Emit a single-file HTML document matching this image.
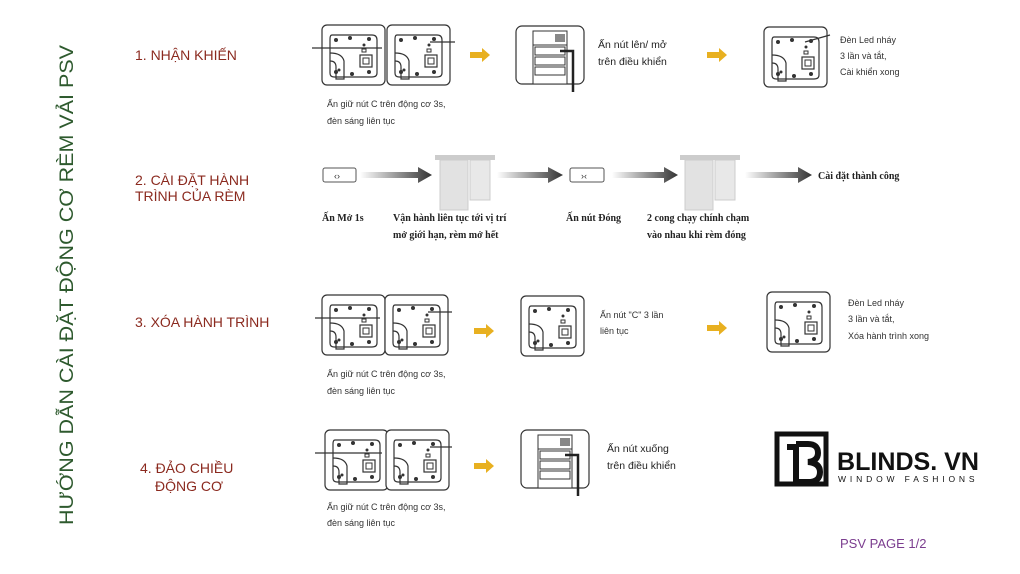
<!DOCTYPE html>
<html><head><meta charset="utf-8"><style>
html,body{margin:0;padding:0;background:#fff;}
svg{display:block;}
.lb{font-family:"Liberation Sans",sans-serif;font-size:14px;fill:#8b2a1f;}
.sm{font-family:"Liberation Sans",sans-serif;font-size:9px;fill:#333;}
.md{font-family:"Liberation Sans",sans-serif;font-size:10.5px;fill:#222;}
.sf{font-family:"Liberation Serif",serif;font-size:10px;font-weight:bold;fill:#222;}
</style></head><body>
<svg width="1020" height="574" viewBox="0 0 1020 574" xmlns="http://www.w3.org/2000/svg">
<defs>
<linearGradient id="ga" x1="0" x2="1"><stop offset="0" stop-color="#fff"/><stop offset="1" stop-color="#333"/></linearGradient>
<g id="motor">
<rect x="0" y="0" width="63" height="60" rx="5" fill="#fff" stroke="#333" stroke-width="1.2"/>
<path d="M10 10 H50 Q55 10 55 15 V48 Q55 52 50 52 H12 Q8 52 8 48 V14 Q8 10 10 10Z" fill="none" stroke="#333" stroke-width="1.2"/>
<circle cx="14" cy="15" r="2" fill="#333"/><circle cx="28" cy="13" r="2" fill="#333"/><circle cx="47" cy="14" r="2" fill="#333"/>
<circle cx="14" cy="47" r="2" fill="#333"/><circle cx="30" cy="49" r="2" fill="#333"/><circle cx="47" cy="47" r="2" fill="#333"/>
<circle cx="42" cy="20" r="1.5" fill="#333"/><rect x="40" y="24" width="4" height="3" fill="none" stroke="#333"/>
<rect x="38" y="30" width="12" height="12" fill="none" stroke="#333" stroke-width="1.2"/><rect x="41" y="33" width="6" height="6" fill="none" stroke="#333"/>
<path d="M8 28 Q20 28 22 36 V54 H14 V42 Q14 36 8 36" fill="none" stroke="#333" stroke-width="1.2"/>
<circle cx="17" cy="45" r="1.5" fill="#333"/>
</g>
<g id="remote">
<rect x="0" y="0" width="68" height="58" rx="6" fill="#fff" stroke="#333" stroke-width="1.2"/>
<rect x="17" y="5" width="34" height="53" fill="#fff" stroke="#333"/>
<rect x="39" y="8" width="10" height="8" fill="#888"/>
<line x1="17" y1="19" x2="51" y2="19" stroke="#333"/>
<rect x="19" y="21" width="30" height="8" fill="none" stroke="#333"/>
<rect x="19" y="31" width="30" height="8" fill="none" stroke="#333"/>
<rect x="19" y="41" width="30" height="8" fill="none" stroke="#333"/>
<path d="M44 25 H57 V66" fill="none" stroke="#222" stroke-width="2.5"/>
</g>
<polygon id="ya" points="0,-3 12,-3 12,-7 20,0 12,7 12,3 0,3" fill="#e8b020"/>
<g id="curt">
<rect x="0" y="0" width="60" height="5" fill="#ccc"/>
<rect x="5" y="5" width="28" height="50" fill="#e2e2e2" stroke="#ccc"/>
<rect x="35" y="5" width="20" height="40" fill="#e8e8e8" stroke="#ccc"/>
</g>
</defs>
<text transform="translate(73,525) rotate(-90)" font-family="Liberation Sans,sans-serif" font-size="19" fill="#2e5a2e" textLength="480" lengthAdjust="spacingAndGlyphs">HƯỚNG DẪN CÀI ĐẶT ĐỘNG CƠ RÈM VẢI PSV</text>
<text class="lb" x="135" y="60">1. NHẬN KHIẾN</text>
<text class="lb" x="135" y="185">2. CÀI ĐẶT HÀNH</text>
<text class="lb" x="135" y="201">TRÌNH CỦA RÈM</text>
<text class="lb" x="135" y="327">3. XÓA HÀNH TRÌNH</text>
<text class="lb" x="140" y="473">4. ĐẢO CHIỀU</text>
<text class="lb" x="155" y="491">ĐỘNG CƠ</text>
<!-- row1 -->
<use href="#motor" x="322" y="25"/><use href="#motor" x="387" y="25"/>
<line x1="312" y1="48" x2="382" y2="48" stroke="#333" stroke-width="1.2"/><line x1="430" y1="42" x2="455" y2="42" stroke="#333" stroke-width="1.2"/>
<use href="#ya" x="470" y="55"/>
<use href="#remote" x="516" y="26"/>
<text class="md" x="598" y="48">Ấn nút lên/ mở</text><text class="md" x="598" y="65">trên điều khiển</text>
<use href="#ya" x="707" y="55"/>
<use href="#motor" x="764" y="27"/>
<line x1="805" y1="42" x2="830" y2="35" stroke="#333" stroke-width="1.2"/>
<text class="sm" x="840" y="43">Đèn Led nháy</text><text class="sm" x="840" y="59">3 lần và tắt,</text><text class="sm" x="840" y="75">Cài khiển xong</text>
<text class="sm" x="327" y="107">Ấn giữ nút C trên động cơ 3s,</text><text class="sm" x="327" y="124">đèn sáng liên tục</text>
<!-- row2 -->
<rect x="323" y="168" width="33" height="14" rx="2" fill="#fff" stroke="#555"/><text class="sm" x="334" y="179">‹›</text>
<polygon points="360,172 418,172 418,167 432,175 418,183 418,178 360,178" fill="url(#ga)"/>
<use href="#curt" x="435" y="155"/>
<polygon points="497,172 548,172 548,167 563,175 548,183 548,178 497,178" fill="url(#ga)"/>
<rect x="570" y="168" width="34" height="14" rx="2" fill="#fff" stroke="#555"/><text class="sm" x="581" y="179">›‹</text>
<polygon points="612,172 664,172 664,167 678,175 664,183 664,178 612,178" fill="url(#ga)"/>
<use href="#curt" x="680" y="155"/>
<polygon points="745,172 798,172 798,167 812,175 798,183 798,178 745,178" fill="url(#ga)"/>
<text class="sf" x="818" y="179">Cài đặt thành công</text>
<text class="sf" x="322" y="221">Ấn Mở 1s</text>
<text class="sf" x="393" y="221">Vận hành liên tục tới vị trí</text><text class="sf" x="393" y="238">mở giới hạn, rèm mở hết</text>
<text class="sf" x="566" y="221">Ấn nút Đóng</text>
<text class="sf" x="647" y="221">2 cong chạy chính chạm</text><text class="sf" x="647" y="238">vào nhau khi rèm đóng</text>
<!-- row3 -->
<use href="#motor" x="322" y="295"/><use href="#motor" x="385" y="295"/>
<line x1="315" y1="318" x2="380" y2="318" stroke="#333" stroke-width="1.2"/><line x1="428" y1="312" x2="452" y2="312" stroke="#333" stroke-width="1.2"/>
<use href="#ya" x="474" y="331"/>
<use href="#motor" x="521" y="296"/>
<text class="sm" x="600" y="318">Ấn nút "C" 3 lần</text><text class="sm" x="600" y="334">liên tục</text>
<use href="#ya" x="707" y="328"/>
<use href="#motor" x="767" y="292"/>
<text class="sm" x="848" y="306">Đèn Led nháy</text><text class="sm" x="848" y="322">3 lần và tắt,</text><text class="sm" x="848" y="339">Xóa hành trình xong</text>
<text class="sm" x="327" y="377">Ấn giữ nút C trên động cơ 3s,</text><text class="sm" x="327" y="394">đèn sáng liên tục</text>
<!-- row4 -->
<use href="#motor" x="325" y="430"/><use href="#motor" x="386" y="430"/>
<line x1="315" y1="453" x2="382" y2="453" stroke="#333" stroke-width="1.2"/><line x1="430" y1="447" x2="452" y2="447" stroke="#333" stroke-width="1.2"/>
<use href="#ya" x="474" y="466"/>
<use href="#remote" x="521" y="430"/>
<text class="md" x="607" y="452">Ấn nút xuống</text><text class="md" x="607" y="469">trên điều khiển</text>
<text class="sm" x="327" y="510">Ấn giữ nút C trên động cơ 3s,</text><text class="sm" x="327" y="526">đèn sáng liên tục</text>
<!-- logo -->
<rect x="777" y="434" width="49" height="50" fill="none" stroke="#111" stroke-width="5"/>
<rect x="787" y="444" width="6" height="6" fill="#111"/>
<path d="M796 444 V482 M796 444 H808 Q818 444 818 453 Q818 461 808 462 Q820 463 820 472 Q820 482 808 482 H796" fill="none" stroke="#111" stroke-width="6"/>
<text x="837" y="470" font-family="Liberation Sans,sans-serif" font-size="25" font-weight="bold" fill="#111" textLength="142" lengthAdjust="spacingAndGlyphs">BLINDS. VN</text>
<text x="838" y="482" font-family="Liberation Sans,sans-serif" font-size="8.5" letter-spacing="3.4" fill="#111" textLength="140">WINDOW FASHIONS</text>
<text x="840" y="548" font-family="Liberation Sans,sans-serif" font-size="13" fill="#7b3d8f">PSV PAGE 1/2</text>
</svg>
</body></html>
